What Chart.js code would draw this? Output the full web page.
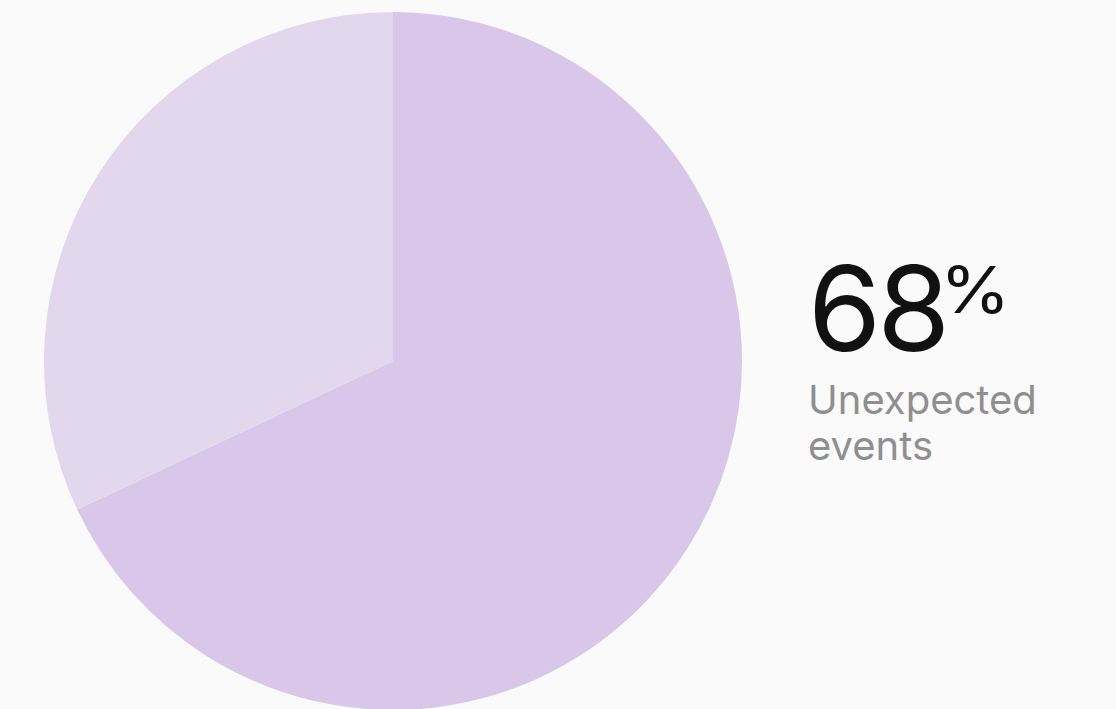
<!DOCTYPE html>
<html>
<head>
<meta charset="utf-8">
<script src="https://cdn.jsdelivr.net/npm/chart.js@4/dist/chart.umd.min.js"></script>
<style>
  html, body { margin:0; padding:0; width:1116px; height:709px; overflow:hidden; background:#fafafa; font-family: Inter, "Noto Sans", sans-serif; }
  #wrap { position:absolute; left:0; top:12px; width:786px; height:698px; }
  #stat { position:absolute; left:808px; top:249px; }
  #num { font-size:118px; line-height:1; color:#111; letter-spacing:-4px; font-weight:400; white-space:nowrap; }
  #num sup { font-size:64px; vertical-align:top; position:relative; top:9px; margin-left:-6px; letter-spacing:0; display:inline-block; transform:scaleX(1.12); transform-origin:left top; }
  #label { font-size:40px; line-height:46px; color:#8f8f8f; margin-top:10px; }
</style>
</head>
<body>
<div id="wrap"><canvas id="c"></canvas></div>
<div id="stat"><div id="num">68<sup>%</sup></div><div id="label">Unexpected<br>events</div></div>
<script>
const categories = ['Unexpected events', 'Other'];
const values = [68, 32];
const colors = ['#d8c7e8', '#e3d7ee'];

new Chart(document.getElementById('c'), {
  type: 'pie',
  data: { labels: categories, datasets: [{ data: values, backgroundColor: colors, borderWidth: 0 }] },
  options: {
    responsive: true, maintainAspectRatio: false, animation: false,
    layout: { padding: 0 },
    plugins: { legend: { display: false }, tooltip: { enabled: false } }
  }
});
</script>
</body>
</html>
